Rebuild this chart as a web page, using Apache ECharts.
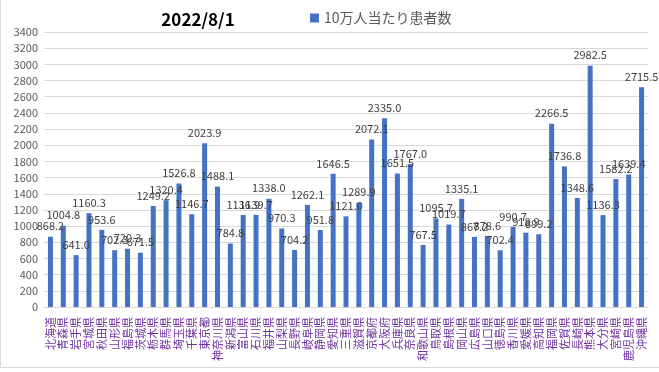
<!DOCTYPE html>
<html><head><meta charset="utf-8">
<script src="https://cdn.jsdelivr.net/npm/echarts@6/dist/echarts.min.js"></script>
<style>html,body{margin:0;padding:0;background:#fff}#c{width:659px;height:372px}</style>
</head><body><div id="c"></div>
<script>
const prefectures = ["北海道","青森県","岩手県","宮城県","秋田県","山形県","福島県","茨城県","栃木県","群馬県","埼玉県","千葉県","東京都","神奈川県","新潟県","富山県","石川県","福井県","山梨県","長野県","岐阜県","静岡県","愛知県","三重県","滋賀県","京都府","大阪府","兵庫県","奈良県","和歌山県","鳥取県","島根県","岡山県","広島県","山口県","徳島県","香川県","愛媛県","高知県","福岡県","佐賀県","長崎県","熊本県","大分県","宮崎県","鹿児島県","沖縄県"];
const casesPer100k = [868.2,1004.8,641.0,1160.3,953.6,702.3,720.3,671.5,1249.2,1320.4,1526.8,1146.7,2023.9,1488.1,784.8,1136.9,1139.7,1338.0,970.3,704.2,1262.1,951.8,1646.5,1121.0,1289.9,2072.1,2335.0,1651.5,1767.0,767.5,1095.7,1019.7,1335.1,867.2,878.6,702.4,990.7,918.9,899.2,2266.5,1736.8,1348.6,2982.5,1136.3,1582.2,1639.4,2715.5];
const seriesName = "10万人当たり患者数";
const titleText = "2022/8/1";

const chart = echarts.init(document.getElementById('c'));
const FONT = '"Noto Sans CJK JP", sans-serif';
chart.setOption({
  animation: false,
  textStyle: {fontFamily: FONT},
  title: {text: titleText, left: 193, top: 6, textAlign: 'center',
    textStyle: {fontSize: 17, fontWeight: 'bold', color: '#000', fontFamily: FONT}},
  legend: {data: [seriesName], left: 305, top: 6, itemWidth: 9, itemHeight: 9, itemGap: 5,
    icon: 'rect', textStyle: {fontSize: 14, color: '#595959', fontFamily: FONT}},
  graphic: [{type: 'rect', shape: {x: 0.5, y: -5, width: 670, height: 372.5}, style: {fill: 'none', stroke: '#d9d9d9', lineWidth: 1}, silent: true}],
  grid: {left: 44, right: 11, top: 32, bottom: 65, containLabel: false},
  xAxis: {type: 'category', data: prefectures,
    axisLine: {lineStyle: {color: '#d9d9d9'}}, axisTick: {show: false},
    axisLabel: {rotate: 90, interval: 0, fontSize: 11, color: '#7030A0', margin: 10, fontFamily: FONT}},
  yAxis: {type: 'value', min: 0, max: 3400, interval: 200,
    axisLine: {show: false}, axisTick: {show: false},
    axisLabel: {fontSize: 11, color: '#595959', margin: 6, fontFamily: FONT, formatter: v => String(v)},
    splitLine: {lineStyle: {color: '#d9d9d9'}}},
  series: [{name: seriesName, type: 'bar', data: casesPer100k, barWidth: 5,
    itemStyle: {color: '#4472C4'},
    label: {show: true, position: 'top', distance: 5, fontSize: 11, color: '#404040',
      fontFamily: FONT, formatter: p => p.value.toFixed(1)}}]
});
</script></body></html>
